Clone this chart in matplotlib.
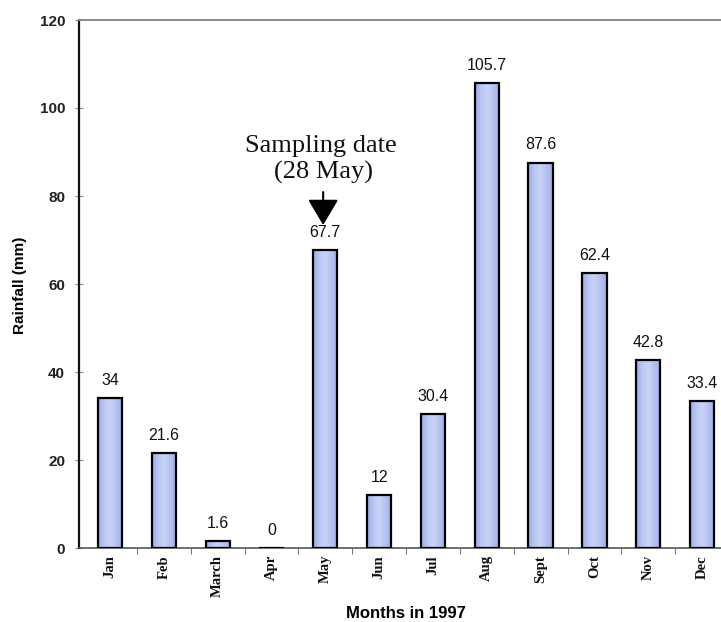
import matplotlib
matplotlib.use("Agg")
import matplotlib.pyplot as plt
import numpy as np
from matplotlib.colors import LinearSegmentedColormap

months = ["Jan", "Feb", "March", "Apr", "May", "Jun", "Jul", "Aug", "Sept", "Oct", "Nov", "Dec"]
rainfall = [34, 21.6, 1.6, 0, 67.7, 12, 30.4, 105.7, 87.6, 62.4, 42.8, 33.4]
value_labels = ["34", "21.6", "1.6", "0", "67.7", "12", "30.4", "105.7", "87.6", "62.4", "42.8", "33.4"]
y_ticks = [0, 20, 40, 60, 80, 100, 120]

W, H = 721, 622
fig = plt.figure(figsize=(W / 100, H / 100), dpi=100)
fig.patch.set_facecolor("white")

left_px, right_px, top_px, bottom_px = 79, 729, 20, 548
ax = fig.add_axes([left_px / W, 1 - bottom_px / H,
                   (right_px - left_px) / W, (bottom_px - top_px) / H])

x = np.arange(len(months))
width = 0.45
bars = ax.bar(x, rainfall, width=width, facecolor="none",
              edgecolor="black", linewidth=1.6, zorder=3)

# horizontal shading inside each bar: a bit darker at the sides, lighter in the middle
cmap = LinearSegmentedColormap.from_list(
    "bar_shade", ["#9aaae6", "#bcc8f4", "#c9d3f6", "#b4c1f1", "#9eaee8"])
grad = np.linspace(0, 1, 64).reshape(1, -1)
for b in bars:
    h = b.get_height()
    if h <= 0:
        continue
    x0 = b.get_x()
    im = ax.imshow(grad, cmap=cmap, aspect="auto",
                   extent=(x0, x0 + b.get_width(), 0, h), zorder=2)
    im.set_clip_path(b)

for xi, v, lab in zip(x, rainfall, value_labels):
    ax.text(xi, v + 2.3, lab, ha="center", va="bottom",
            fontsize=11.5, family="Liberation Sans", color="#111111")

ax.set_xlim(-0.576, 11.5)
ax.set_ylim(0, 120)

ax.set_yticks(y_ticks)
ax.set_yticklabels([str(t) for t in y_ticks], family="Liberation Sans",
                   fontsize=11, fontweight="bold", color="#222222")
ax.tick_params(axis="y", direction="inout", length=6, width=0.8,
               color="#888888", pad=7)

ax.set_xticks(x)
ax.set_xticklabels(months, rotation=90, family="Liberation Serif",
                   fontsize=10.5, fontweight="bold", color="#111111")
ax.set_xticks(np.arange(len(months)) + 0.5, minor=True)
ax.tick_params(axis="x", which="major", length=0, pad=5)
ax.tick_params(axis="x", which="minor", length=4, width=0.8, color="#777777")

ax.spines["left"].set_color("#111111")
ax.spines["left"].set_linewidth(1.6)
ax.spines["bottom"].set_color("#555555")
ax.spines["bottom"].set_linewidth(1.2)
ax.spines["top"].set_color("#888888")
ax.spines["top"].set_linewidth(1.4)
ax.spines["right"].set_visible(False)

fig.text(20 / W, 1 - 285 / H, "Rainfall (mm)", rotation=90,
         ha="center", va="center", family="Liberation Sans",
         fontsize=11, fontweight="bold")
fig.text(406 / W, 1 - 614 / H, "Months in 1997", ha="center", va="center",
         family="Liberation Sans", fontsize=12, fontweight="bold")

# sampling date annotation above May
ax.annotate("", xy=(3.96, 73.4), xytext=(3.96, 80.9),
            arrowprops=dict(arrowstyle="-|>,head_width=0.95,head_length=1.6",
                            color="black", lw=1.5, shrinkA=0, shrinkB=0))
ax.text(3.92, 90.0, "Sampling date", ha="center", va="baseline",
        family="Liberation Serif", fontsize=19, color="#111111")
ax.text(3.96, 83.9, "(28 May)", ha="center", va="baseline",
        family="Liberation Serif", fontsize=19, color="#111111")

fig.savefig("out.png", dpi=100, facecolor="white")
